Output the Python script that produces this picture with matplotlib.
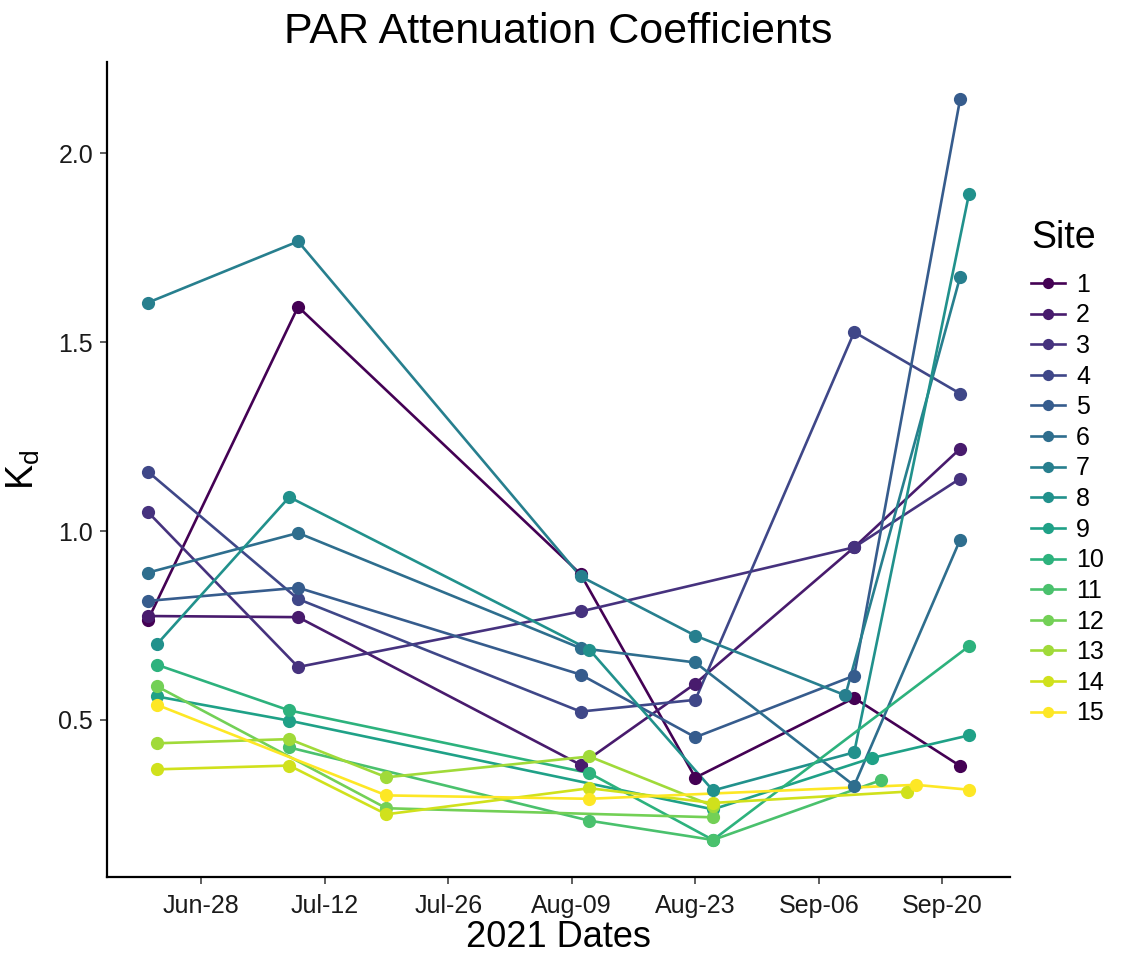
# -*- coding: utf-8 -*-
"""PAR attenuation coefficients (Kd) per site, 2021 season."""

import numpy as np
import matplotlib
matplotlib.use("Agg")
import matplotlib.pyplot as plt
import matplotlib.dates as mdates
from matplotlib.lines import Line2D

plt.rcParams["font.family"] = ["Liberation Sans", "DejaVu Sans"]
plt.rcParams["mathtext.fontset"] = "custom"
plt.rcParams["mathtext.rm"] = "Liberation Sans"
plt.rcParams["mathtext.it"] = "Liberation Sans"

# =========================================================================
# Data
# =========================================================================

site01_dates = ["2021-06-22", "2021-07-09", "2021-08-10", "2021-08-23", "2021-09-10", "2021-09-22"]
site01_kd = [0.765, 1.594, 0.886, 0.347, 0.558, 0.378]

site02_dates = ["2021-06-22", "2021-07-09", "2021-08-10", "2021-08-23", "2021-09-10", "2021-09-22"]
site02_kd = [0.775, 0.772, 0.381, 0.596, 0.957, 1.218]

site03_dates = ["2021-06-22", "2021-07-09", "2021-08-10", "2021-09-10", "2021-09-22"]
site03_kd = [1.050, 0.640, 0.787, 0.957, 1.139]

site04_dates = ["2021-06-22", "2021-07-09", "2021-08-10", "2021-08-23", "2021-09-10", "2021-09-22"]
site04_kd = [1.157, 0.820, 0.522, 0.553, 1.527, 1.364]

site05_dates = ["2021-06-22", "2021-07-09", "2021-08-10", "2021-08-23", "2021-09-10", "2021-09-22"]
site05_kd = [0.815, 0.850, 0.620, 0.454, 0.617, 2.144]

site06_dates = ["2021-06-22", "2021-07-09", "2021-08-10", "2021-08-23", "2021-09-10", "2021-09-22"]
site06_kd = [0.890, 0.995, 0.690, 0.652, 0.326, 0.977]

site07_dates = ["2021-06-22", "2021-07-09", "2021-08-10", "2021-08-23", "2021-09-09", "2021-09-22"]
site07_kd = [1.605, 1.767, 0.880, 0.723, 0.565, 1.673]

site08_dates = ["2021-06-23", "2021-07-08", "2021-08-11", "2021-08-25", "2021-09-10", "2021-09-23"]
site08_kd = [0.700, 1.090, 0.686, 0.313, 0.414, 1.892]

site09_dates = ["2021-06-23", "2021-07-08", "2021-08-25", "2021-09-12", "2021-09-23"]
site09_kd = [0.562, 0.498, 0.263, 0.399, 0.459]

site10_dates = ["2021-06-23", "2021-07-08", "2021-08-11", "2021-08-25", "2021-09-23"]
site10_kd = [0.646, 0.525, 0.359, 0.182, 0.695]

site11_dates = ["2021-07-08", "2021-08-11", "2021-08-25", "2021-09-13"]
site11_kd = [0.427, 0.233, 0.182, 0.340]

site12_dates = ["2021-06-23", "2021-07-19", "2021-08-25"]
site12_kd = [0.589, 0.266, 0.242]

site13_dates = ["2021-06-23", "2021-07-08", "2021-07-19", "2021-08-11", "2021-08-25"]
site13_kd = [0.438, 0.449, 0.348, 0.403, 0.272]

site14_dates = ["2021-06-23", "2021-07-08", "2021-07-19", "2021-08-11", "2021-08-25", "2021-09-16"]
site14_kd = [0.369, 0.379, 0.250, 0.319, 0.280, 0.310]

site15_dates = ["2021-06-23", "2021-07-19", "2021-08-11", "2021-09-17", "2021-09-23"]
site15_kd = [0.540, 0.300, 0.291, 0.328, 0.315]

SITES = [
    ("1", site01_dates, site01_kd),
    ("2", site02_dates, site02_kd),
    ("3", site03_dates, site03_kd),
    ("4", site04_dates, site04_kd),
    ("5", site05_dates, site05_kd),
    ("6", site06_dates, site06_kd),
    ("7", site07_dates, site07_kd),
    ("8", site08_dates, site08_kd),
    ("9", site09_dates, site09_kd),
    ("10", site10_dates, site10_kd),
    ("11", site11_dates, site11_kd),
    ("12", site12_dates, site12_kd),
    ("13", site13_dates, site13_kd),
    ("14", site14_dates, site14_kd),
    ("15", site15_dates, site15_kd),
]

X_TICKS = ["2021-06-28", "2021-07-12", "2021-07-26", "2021-08-09",
           "2021-08-23", "2021-09-06", "2021-09-20"]
Y_TICKS = [0.5, 1.0, 1.5, 2.0]

TITLE = "PAR Attenuation Coefficients"
X_LABEL = "2021 Dates"
Y_LABEL = r"K$_\mathregular{d}$"
LEGEND_TITLE = "Site"

OUTPUT_PATH = "out.png"

LINE_W = 1.9
MARKER_SZ = 9.5


def to_dates(strings):
    return np.array(strings, dtype="datetime64[D]").astype("O")


def main():
    fig = plt.figure(figsize=(11.28, 9.57), dpi=100)
    ax = fig.add_axes([107 / 1128, 80 / 957, 903 / 1128, 815 / 957])

    colors = plt.cm.viridis(np.linspace(0, 1, len(SITES)))

    # lines first, then points on top (like ggplot layers)
    for (name, dates, kd), c in zip(SITES, colors):
        ax.plot(to_dates(dates), kd, color=c, linewidth=LINE_W, zorder=2)
    for (name, dates, kd), c in zip(SITES, colors):
        ax.plot(to_dates(dates), kd, linestyle="none", marker="o",
                markersize=MARKER_SZ, color=c, markeredgewidth=0, zorder=3)

    ax.margins(x=0.05, y=0.05)

    # ---- axes styling (theme_classic-ish) ----
    for side in ("top", "right"):
        ax.spines[side].set_visible(False)
    for side in ("left", "bottom"):
        ax.spines[side].set_linewidth(1.6)
        ax.spines[side].set_color("black")

    ax.set_xticks(to_dates(X_TICKS))
    ax.xaxis.set_major_formatter(mdates.DateFormatter("%b-%d"))
    ax.set_yticks(Y_TICKS)
    ax.yaxis.set_major_formatter(matplotlib.ticker.FormatStrFormatter("%.1f"))
    ax.tick_params(axis="both", labelsize=18, length=5, width=1.1,
                   color="#333333", labelcolor="#1a1a1a")
    ax.tick_params(axis="x", pad=7)
    ax.tick_params(axis="y", pad=5)

    ax.set_title(TITLE, fontsize=31, pad=14)
    ax.set_xlabel(X_LABEL, fontsize=26, labelpad=2)
    ax.set_ylabel(Y_LABEL, fontsize=27, labelpad=12)

    handles = [
        Line2D([0], [0], color=c, linewidth=LINE_W, marker="o",
               markersize=MARKER_SZ * 0.85, markeredgewidth=0)
        for c in colors
    ]
    labels = [name for name, _, _ in SITES]
    leg = fig.legend(
        handles, labels, title=LEGEND_TITLE, loc="upper left",
        bbox_to_anchor=(1021 / 1128, 1 - 210 / 957), frameon=False,
        fontsize=18, title_fontsize=27, handlelength=1.35,
        handletextpad=0.45, labelspacing=0.265, borderaxespad=0,
    )
    leg._legend_box.align = "left"
    leg._legend_box.sep = 12

    fig.savefig(OUTPUT_PATH, dpi=100)
    plt.close(fig)


if __name__ == "__main__":
    main()
